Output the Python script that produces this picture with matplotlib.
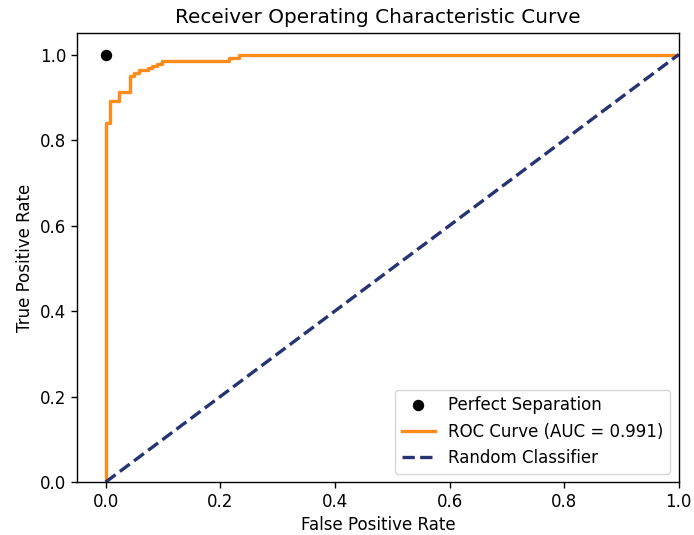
import matplotlib
matplotlib.use("Agg")
from matplotlib import pyplot as plt

# ROC points (step curve)
fpr = [0.0, 0.0, 0.007, 0.007, 0.024, 0.024, 0.042, 0.042, 0.049, 0.049,
       0.058, 0.058, 0.073, 0.073, 0.081, 0.081, 0.090, 0.090, 0.099, 0.099,
       0.215, 0.215, 0.233, 0.233, 1.0]
tpr = [0.0, 0.840, 0.840, 0.891, 0.891, 0.913, 0.913, 0.949, 0.949, 0.957,
       0.957, 0.963, 0.963, 0.969, 0.969, 0.974, 0.974, 0.979, 0.979, 0.986,
       0.986, 0.993, 0.993, 1.0, 1.0]
auc_value = 0.991

random_x = [0.0, 1.0]
random_y = [0.0, 1.0]

fig = plt.figure(figsize=(6.94, 5.35), dpi=100)
ax = fig.add_axes([0.111, 0.099, 0.867, 0.839])

ax.plot(0, 1, 'o', color='black', markersize=7.2, label='Perfect Separation')
ax.plot(fpr, tpr, color='#ff8c1a', lw=2.4, label=f'ROC Curve (AUC = {auc_value:.3f})')
ax.plot(random_x, random_y, color='#263473', lw=2.4, linestyle='--', label='Random Classifier')

ax.set_xlim([-0.05, 1.0])
ax.set_ylim([0.0, 1.05])
ax.set_xlabel('False Positive Rate', fontsize=12)
ax.set_ylabel('True Positive Rate', fontsize=12)
ax.set_title('Receiver Operating Characteristic Curve', fontsize=14.4, pad=7)
ax.tick_params(labelsize=12, length=4.2, width=1)
for s in ax.spines.values():
    s.set_linewidth(1)
ax.legend(loc='lower right', fontsize=12)

fig.savefig('out.png', dpi=100)
